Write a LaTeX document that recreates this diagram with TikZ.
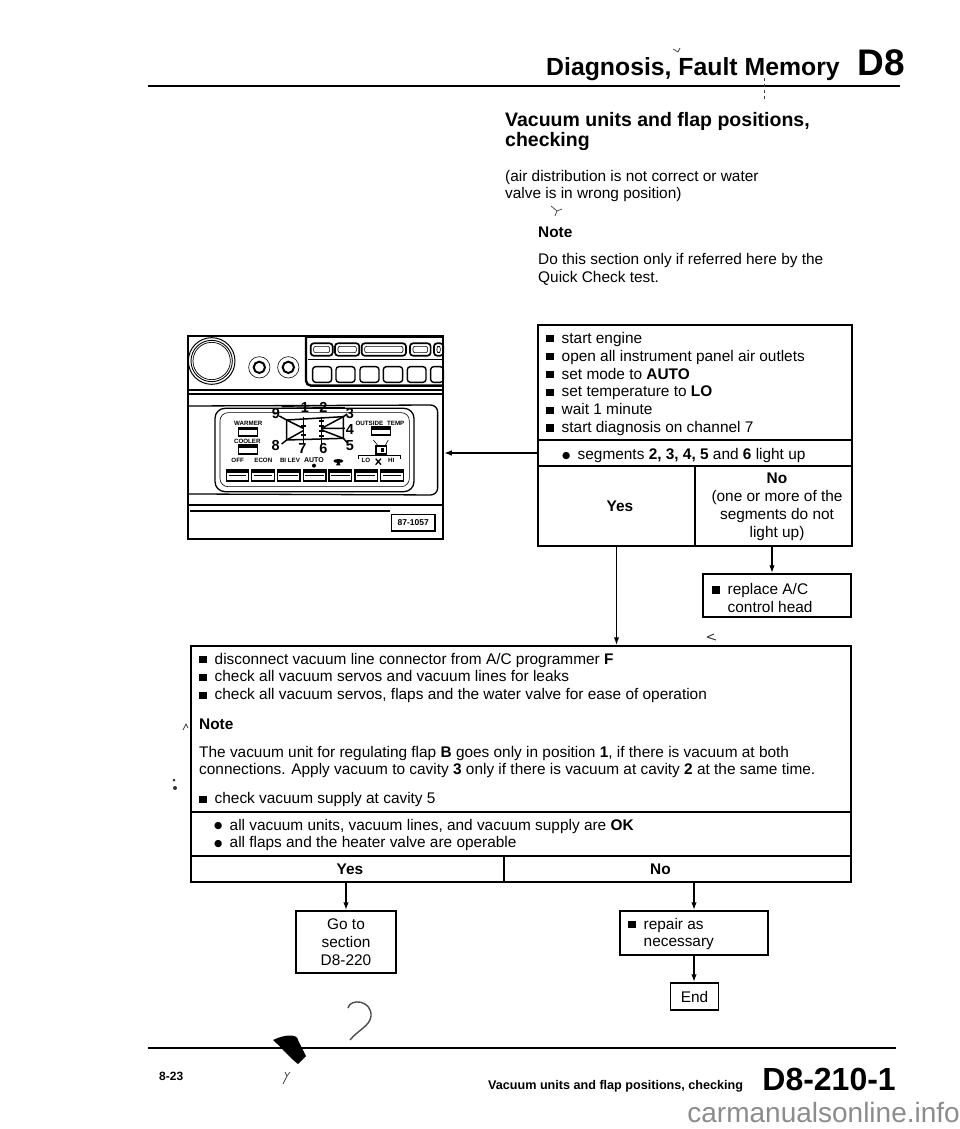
\documentclass[tikz,border=0pt]{standalone}
\usepackage{fontspec}
\setmainfont{Liberation Sans}
\newfontfamily\djv{DejaVu Sans}
\usetikzlibrary{arrows.meta}
\newcommand{\sqb}{\makebox[15.5pt][l]{\rule[0.8pt]{7.5pt}{7.5pt}}}
\newcommand{\rdb}{\makebox[15.5pt][l]{\raisebox{1.6pt}{\djv\fontsize{9.5}{10}\selectfont ●}}}
\tikzset{
 x=1pt,y=-1pt,
 boxst/.style={draw=black,line width=1.5pt,inner sep=0pt,fill=none},
 body/.style={font=\fontsize{15.4}{17.9}\selectfont,inner sep=0pt,align=left,anchor=west,text=black},
 bodyb/.style={body,font=\fontsize{15.4}{17.9}\bfseries\selectfont},
 ctr/.style={font=\fontsize{15.4}{17.9}\selectfont,inner sep=0pt,align=center,text=black},
 bctr/.style={ctr,font=\fontsize{15.4}{17.9}\bfseries\selectfont},
 arr/.style={line width=1.8pt,-{Latex[length=8pt,width=5.5pt]}},
 rulest/.style={line width=2.2pt},
 pan/.style={line width=0.6pt},
 panth/.style={line width=1.2pt},
 tiny/.style={font=\fontsize{6.2}{7}\bfseries\selectfont,inner sep=0pt},
 digit/.style={font=\fontsize{14.5}{15}\bfseries\selectfont,inner sep=0pt},
 speck/.style={line width=0.7pt,black!75},
}
\begin{document}
\begin{tikzpicture}
\useasboundingbox (0,0) rectangle (960,1129);
\fill[white] (0,0) rectangle (960,1129);
% header
\node[inner sep=0pt,anchor=base west,font=\fontsize{24.8}{26}\bfseries\selectfont] (head) at (546,76) {Diagnosis, Fault Memory};
\node[inner sep=0pt,anchor=base east,font=\fontsize{37}{40}\bfseries\selectfont] (d8) at (905,76) {D8};
\coordinate (hl) at (148,86); \coordinate (hr) at (900,86);
\draw[rulest] (hl) -- (hr);
\node[inner sep=0pt,anchor=west,align=left,font=\fontsize{19.5}{20}\bfseries\selectfont] (title) at (505,131.5) {Vacuum units and flap positions,\\checking};
\node[body] (intro) at (505,186) {(air distribution is not correct or water\\valve is in wrong position)};
\node[bodyb] (note1) at (538,232) {Note};
\node[body] (note1b) at (538,269) {Do this section only if referred here by the\\Quick Check test.};
% top box
\node[boxst,minimum width=314pt,minimum height=115pt] (steps) at (695,382.5) {};
\node[boxst,minimum width=314pt,minimum height=26pt] (seg) at (695,453) {};
\node[boxst,minimum width=157pt,minimum height=80pt] (cy) at (616.5,506) {};
\node[boxst,minimum width=157pt,minimum height=80pt] (cn) at (773.5,506) {};
\node[body] (stepst) at (546,384) {\sqb start engine\\\sqb open all instrument panel air outlets\\\sqb set mode to \textbf{AUTO}\\\sqb set temperature to \textbf{LO}\\\sqb wait 1 minute\\\sqb start diagnosis on channel 7};
\node[body] (segt) at (562,456) {\rdb segments \textbf{2, 3, 4, 5} and \textbf{6} light up};
\node[bctr] (yt) at (620,506) {Yes};
\node[ctr] (nt) at (777,507) {\textbf{No}\\(one or more of the\\segments do not\\light up)};
\node[boxst,minimum width=148pt,minimum height=43pt] (rep) at (777,595.5) {};
\node[body] (rept) at (712,598) {\sqb replace A/C\\\hspace*{15.5pt}control head};
% big box
\node[boxst,minimum width=660pt,minimum height=166pt] (big) at (521,729) {};
\node[boxst,minimum width=660pt,minimum height=44pt] (res) at (521,834) {};
\node[boxst,minimum width=313pt,minimum height=26pt] (y2) at (347.5,869) {};
\node[boxst,minimum width=347pt,minimum height=26pt] (n2) at (677.5,869) {};
\node[body] (bl1) at (199,678) {\sqb disconnect vacuum line connector from A/C programmer \textbf{F}\\\sqb check all vacuum servos and vacuum lines for leaks\\\sqb check all vacuum servos, flaps and the water valve for ease of operation};
\node[bodyb] (note2) at (199,724) {Note};
\node[body] (para) at (199,762) {The vacuum unit for regulating flap \textbf{B} goes only in position \textbf{1}, if there is vacuum at both\\connections. Apply vacuum to cavity \textbf{3} only if there is vacuum at cavity \textbf{2} at the same time.};
\node[body] (bl2) at (199,800) {\sqb check vacuum supply at cavity 5};
\node[body] (rest) at (214,835) {\rdb all vacuum units, vacuum lines, and vacuum supply are \textbf{OK}\\\rdb all flaps and the heater valve are operable};
\node[bctr] (yt2) at (350,869.5) {Yes};
\node[bctr] (nt2) at (660.5,869.5) {No};
\node[boxst,minimum width=100pt,minimum height=62pt] (goto) at (346,942) {};
\node[ctr] (gotot) at (346,942) {Go to\\section\\D8-220};
\node[boxst,minimum width=148pt,minimum height=44pt] (repair) at (694,933) {};
\node[body] (repairt) at (628,934) {\sqb repair as\\\hspace*{15.5pt}necessary};
\node[boxst,minimum width=48pt,minimum height=27pt] (endb) at (694.5,996.5) {};
\node[ctr] (endt) at (694.5,997) {End};
% panel
\node[draw=black,line width=1.5pt,inner sep=0pt,minimum width=255pt,minimum height=203pt] (panel) at (315.5,437.5) {};
\begin{scope}[shift={(170,320)},x=0.3333pt,y=-0.3333pt]
 \draw[line width=1pt] (125,123) circle (70*0.3333pt);
 \draw[line width=0.9pt] (125,123) circle (62*0.3333pt);
 \draw[line width=0.7pt] (125,123) circle (56*0.3333pt);
 \foreach \cx in {268,355}{
  \draw[pan] (\cx,142) circle (32*0.3333pt);
  \draw[line width=2pt] (\cx,142) circle (17*0.3333pt);}
 \draw[line width=2.4pt,rounded corners=5pt] (408,50) -- (408,197) -- (820,197);
 \draw[line width=1.8pt] (408,50) -- (820,50);
 \draw[pan] (415,118) -- (820,118);
 \foreach \a/\b in {422/488,495/568,575/708,720/782,792/820}{
  \draw[line width=1.7pt,rounded corners=3pt] (\a,70) rectangle (\b,107);
  \draw[pan,rounded corners=2pt] (\a+9,79) rectangle (\b-9,98);}
 \foreach \a/\b in {428/485,498/555,570/627,640/698,712/768,782/820}
  \draw[line width=1.4pt,rounded corners=3pt] (\a,140) rectangle (\b,187);
 \draw[panth] (55,210) -- (820,210);
 \draw[panth] (55,222) -- (820,222);
 \draw[line width=1.3pt,rounded corners=7pt] (55,258) -- (803,255) -- (803,525) -- (55,522);
 \draw[line width=1.3pt,rounded corners=10pt] (135,265) rectangle (732,515);
 \draw[pan,rounded corners=8pt] (150,278) rectangle (718,500);
 \draw[panth] (55,555) -- (820,555);
 \draw[panth] (60,573) -- (660,573);
 \draw[panth] (665,583) rectangle (795,633);
 \node[inner sep=0pt,font=\fontsize{8.5}{9}\bfseries\selectfont] (lab) at (730,608) {87-1057};
 % segment display
 \draw[panth] (335,260) -- (525,263);
 \draw[line width=1.5pt] (350,300) -- (520,290) -- (520,355) -- (350,360) -- cycle;
 \draw[line width=1.5pt] (328,288) -- (350,300) -- (400,325) (335,372) -- (350,360) -- (400,332) (520,290) -- (455,325) (520,355) -- (455,330) (455,325) -- (525,325) (520,290) -- (532,282) (520,355) -- (532,368);
 \draw[line width=1.5pt] (400,290) -- (400,372) (455,290) -- (455,372);
 \foreach \ty in {303,318,333,348}{\draw[panth] (447,\ty) -- (463,\ty);}
 \foreach \ty in {318,345}{\draw[panth] (392,\ty) -- (408,\ty);}
 \node[digit] (s1) at (405,263) {1}; \node[digit] (s2) at (460,263) {2};
 \node[digit] (s3) at (540,280) {3}; \node[digit] (s4) at (540,330) {4};
 \node[digit] (s5) at (540,377) {5}; \node[digit] (s6) at (460,387) {6};
 \node[digit] (s7) at (397,387) {7}; \node[digit] (s8) at (317,377) {8};
 \node[digit] (s9) at (318,280) {9};
 % small controls
 \foreach \a/\b/\c/\d in {205/322/262/348,205/375/262/402,605/320/662/345}{
  \draw[panth] (\a,\b) rectangle (\c,\d);
  \fill (\a,\b) rectangle (\c,\b+9);}
 \node[tiny] (t1) at (235,310) {WARMER};
 \node[tiny] (t2) at (232,364) {COOLER};
 \node[tiny] (t3) at (630,310) {OUTSIDE\hspace{4pt}TEMP};
 \node[tiny] (t4) at (203,422) {OFF};
 \node[tiny] (t5) at (280,422) {ECON};
 \node[tiny] (t6) at (360,422) {BI LEV};
 \node[tiny,font=\fontsize{7}{8}\bfseries\selectfont] (t7) at (432,420) {AUTO};
 \fill (432,437) circle (2pt);
 \fill (505,423) ellipse (15*0.3333pt and 6*0.3333pt);
 \fill (505,423) -- (498,436) -- (512,436) -- cycle;
 \node[tiny] (t8) at (588,421) {LO};
 \node[tiny] (t9) at (664,421) {HI};
 \draw[panth] (565,418) -- (565,407) -- (692,407) -- (692,418);
 \draw[line width=1.3pt] (617,416) -- (633,434) (633,416) -- (617,434);
 \draw[line width=1.6pt] (618,378) rectangle (650,402);
 \fill (632,384) rectangle (642,396);
 \draw[pan] (610,360) -- (625,378) (655,360) -- (645,378);
 \foreach \a/\b in {170/235,245/313,322/390,400/468,477/545,555/622,632/700}{
  \draw[line width=1.3pt] (\a,449) rectangle (\b,483);
  \fill (\a,449) rectangle (\b,460);
  \draw[pan] (\a+6,465) -- (\b-6,465);}
\end{scope}
% connectors
\draw[arr] (seg.west) -- (seg.west -| panel.east);
\draw[arr] (cy.south) -- (cy.south |- big.north);
\draw[arr] (rep.north |- cn.south) ++(-5,0) coordinate (nox) -- (nox |- rep.north);
\draw[arr] (goto.north |- y2.south) -- (goto.north);
\draw[arr] (repair.north |- n2.south) -- (repair.north);
\draw[arr] (repair.south) -- (repair.south |- endb.north);
% footer
\coordinate (fl) at (148,1048); \coordinate (fr) at (896,1048);
\draw[rulest] (fl) -- (fr);
\fill (273,1040) .. controls (285,1034) and (298,1034) .. (298,1040) -- (306,1056) -- (298,1064) .. controls (290,1058) and (282,1048) .. cycle;
\draw[line width=1.4pt,black!70] (348,1008) .. controls (350,998) and (372,1000) .. (371,1016) .. controls (370,1026) and (358,1030) .. (350,1040);
\node[inner sep=0pt,anchor=base west,font=\fontsize{12}{13}\bfseries\selectfont] (pg) at (159,1080) {8-23};
\node[inner sep=0pt,anchor=base west,font=\fontsize{12.6}{13}\bfseries\selectfont] (ft) at (488,1089) {Vacuum units and flap positions, checking};
\node[inner sep=0pt,anchor=base east,font=\fontsize{32}{34}\bfseries\selectfont] (fn) at (896,1090) {D8-210-1};
\node[inner sep=0pt,anchor=base east,text=black!45,font=\fontsize{28}{30}\selectfont] (wm) at (960,1122) {carmanualsonline.info};
% scan marks
\draw[speck] (551,206) -- (557,211) -- (562,209) (557,211) -- (555,216);
\draw[speck] (673,49) -- (678,52) -- (680,48);
\draw[speck,dashed] (764,78) -- (764,101);
\draw[speck,line width=1pt] (707,637) -- (714,634) (707,637) -- (716,640);
\draw[speck] (285,1072) -- (287,1076) -- (290,1072) (287,1076) -- (283,1084);
\draw[speck] (183,730) -- (186,724) -- (188,728);
\fill[black!80] (174,780) circle (1.5pt) (175,788) circle (2pt);
\end{tikzpicture}
\end{document}
